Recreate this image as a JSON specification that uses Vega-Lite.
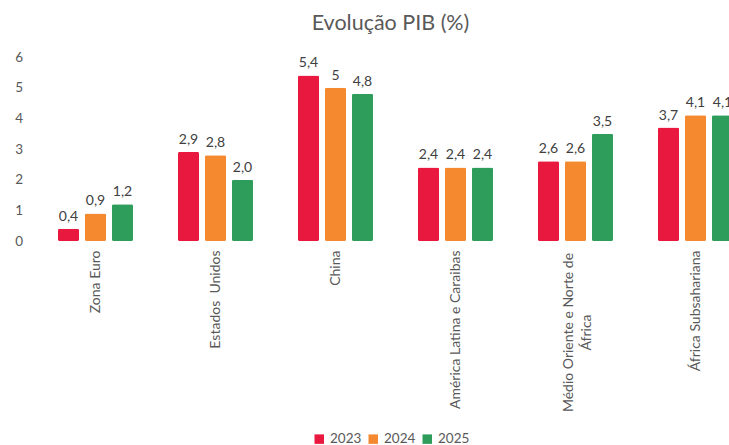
{
  "$schema": "https://vega.github.io/schema/vega-lite/v6.json",
  "autosize": {"type": "none"},
  "padding": {"left": 35.5, "top": 57, "right": 0, "bottom": 204},
  "width": 720,
  "height": 184,
  "background": "white",
  "title": {
    "text": "Evolução PIB (%)",
    "font": "Lato",
    "fontSize": 21.5,
    "fontWeight": "normal",
    "color": "#595959",
    "anchor": "middle",
    "dx": -5,
    "offset": 16
  },
  "config": {
    "view": {"stroke": null},
    "font": "Lato"
  },
  "data": {
    "values": [
      {"regiao": "Zona Euro", "ano": "2023", "pib": 0.4, "rotulo": "0,4"},
      {"regiao": "Zona Euro", "ano": "2024", "pib": 0.9, "rotulo": "0,9"},
      {"regiao": "Zona Euro", "ano": "2025", "pib": 1.2, "rotulo": "1,2"},
      {"regiao": "Estados\u00a0\u00a0Unidos", "ano": "2023", "pib": 2.9, "rotulo": "2,9"},
      {"regiao": "Estados\u00a0\u00a0Unidos", "ano": "2024", "pib": 2.8, "rotulo": "2,8"},
      {"regiao": "Estados\u00a0\u00a0Unidos", "ano": "2025", "pib": 2.0, "rotulo": "2,0"},
      {"regiao": "China", "ano": "2023", "pib": 5.4, "rotulo": "5,4"},
      {"regiao": "China", "ano": "2024", "pib": 5.0, "rotulo": "5"},
      {"regiao": "China", "ano": "2025", "pib": 4.8, "rotulo": "4,8"},
      {"regiao": "América Latina e Caraibas", "ano": "2023", "pib": 2.4, "rotulo": "2,4"},
      {"regiao": "América Latina e Caraibas", "ano": "2024", "pib": 2.4, "rotulo": "2,4"},
      {"regiao": "América Latina e Caraibas", "ano": "2025", "pib": 2.4, "rotulo": "2,4"},
      {"regiao": "Médio Oriente e Norte de África", "ano": "2023", "pib": 2.6, "rotulo": "2,6"},
      {"regiao": "Médio Oriente e Norte de África", "ano": "2024", "pib": 2.6, "rotulo": "2,6"},
      {"regiao": "Médio Oriente e Norte de África", "ano": "2025", "pib": 3.5, "rotulo": "3,5"},
      {"regiao": "África Subsahariana", "ano": "2023", "pib": 3.7, "rotulo": "3,7"},
      {"regiao": "África Subsahariana", "ano": "2024", "pib": 4.1, "rotulo": "4,1"},
      {"regiao": "África Subsahariana", "ano": "2025", "pib": 4.1, "rotulo": "4,1"}
    ]
  },
  "encoding": {
    "x": {
      "field": "regiao",
      "type": "nominal",
      "sort": null,
      "scale": {"paddingInner": 0.375, "paddingOuter": 0.1875},
      "axis": {
        "title": null,
        "domain": false,
        "ticks": false,
        "labelAngle": -90,
        "labelAlign": {"condition": {"test": "datum.value == 'Médio Oriente e Norte de África'", "value": "center"}, "value": "right"},
        "labelPadding": {"condition": {"test": "datum.value == 'Médio Oriente e Norte de África'", "value": 91}, "value": 9},
        "labelOffset": {"condition": {"test": "datum.value == 'Médio Oriente e Norte de África'", "value": -7}, "value": 0},
        "labelBaseline": "middle",
        "labelFontSize": 14,
        "labelColor": "#595959",
        "labelLineHeight": 18,
        "labelExpr": "datum.label == 'Médio Oriente e Norte de África' ? ['Médio Oriente e Norte de', 'África'] : datum.label"
      }
    },
    "xOffset": {
      "field": "ano",
      "type": "nominal",
      "scale": {"paddingInner": 0.222, "paddingOuter": 0}
    },
    "y": {
      "field": "pib",
      "type": "quantitative",
      "scale": {"domain": [0, 6], "nice": false},
      "axis": {
        "title": null,
        "domain": false,
        "ticks": false,
        "grid": false,
        "values": [0, 1, 2, 3, 4, 5, 6],
        "labelFontSize": 13.5,
        "labelColor": "#595959",
        "labelPadding": 13
      }
    }
  },
  "layer": [
    {
      "mark": {"type": "bar", "cornerRadius": 1.5},
      "encoding": {
        "color": {
          "field": "ano",
          "type": "nominal",
          "scale": {"domain": ["2023", "2024", "2025"], "range": ["#e8183f", "#f5892f", "#2e9d5c"]},
          "legend": {
            "title": null,
            "orient": "none",
            "legendX": 277,
            "legendY": 375,
            "direction": "horizontal",
            "symbolType": "square",
            "symbolSize": 90,
            "symbolStrokeWidth": 0,
            "labelFontSize": 13.5,
            "labelColor": "#595959",
            "columnPadding": 5,
            "labelOffset": 4
          }
        }
      }
    },
    {
      "mark": {"type": "text", "baseline": "bottom", "dy": -5, "fontSize": 14, "color": "#404040"},
      "encoding": {
        "text": {"field": "rotulo", "type": "nominal"}
      }
    }
  ]
}
